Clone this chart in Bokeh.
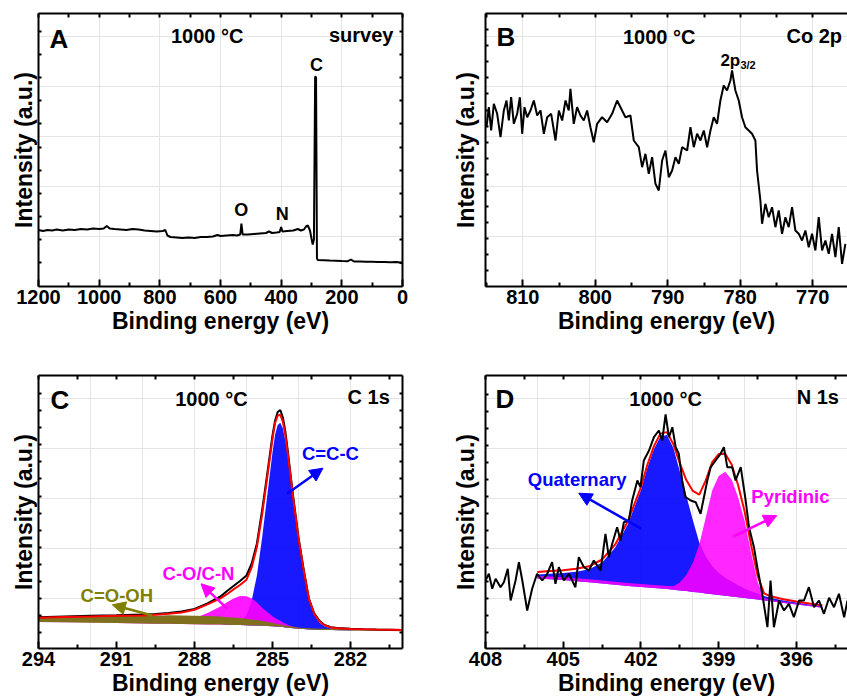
from bokeh.plotting import figure
from bokeh.models import (Range1d, FixedTicker, LinearAxis, Label, Arrow,
                          NormalHead, CustomJSTickFormatter)
from bokeh.layouts import column, row
from bokeh.embed import file_html
from bokeh.resources import INLINE

FONT = "Liberation Sans"

# ---------------- Panel A : survey ----------------
survey_be = [1200, 1185, 1170, 1155, 1140, 1120, 1100, 1080, 1060, 1040, 1020, 1000, 985, 975, 965,
             950, 930, 910, 890, 870, 850, 830, 810, 790, 782, 775, 765, 745, 725, 705, 685, 665,
             645, 625, 610, 600, 580, 560, 545, 535, 531, 527, 510, 490, 470, 450, 440, 430, 415,
             405, 400, 396, 380, 360, 345, 335, 325, 318, 312, 305, 300, 296, 292, 288, 285, 282,
             279, 260, 240, 220, 200, 180, 170, 160, 140, 120, 100, 80, 60, 40, 20, 10, 0]
survey_int = [56.5, 55.5, 56.5, 56, 57, 56, 57, 56.5, 57.5, 57, 58, 57.5, 58, 60.5, 58,
              57.5, 57, 56.5, 57.5, 57, 56, 55.5, 55, 55.5, 56.5, 51, 49.5, 49, 48.5, 49, 48.5, 49.5,
              49.5, 50, 51.5, 50.5, 51, 51.5, 51, 52, 63, 52, 52, 52.5, 53, 53.5, 55, 53.5, 54,
              54.5, 59.5, 55, 55.5, 56, 57.5, 56, 57, 60, 61, 56, 48, 42, 47, 210, 209, 28,
              26.5, 26.3, 26, 25.8, 25.5, 25.3, 27, 25, 25, 24.8, 24.8, 24.5, 24.5, 24.3, 24.5, 24, 23]

# ---------------- Panel B : Co 2p ----------------
co2p_be = [815.01, 814.69, 814.37, 814.00, 813.54, 813.08, 812.62, 812.25, 811.93, 811.61,
           811.24, 810.78, 810.41, 810.09, 809.77, 809.40, 808.94, 808.48, 808.02, 807.56,
           807.10, 806.64, 806.09, 805.49, 805.03, 804.57, 804.11, 803.66, 803.43, 802.97,
           802.51, 802.05, 801.59, 801.13, 800.67, 800.21, 799.75, 799.06, 798.37, 797.68,
           796.99, 796.53, 795.84, 795.15, 794.69, 794.00, 793.54, 793.08, 792.62, 792.16,
           791.70, 791.24, 790.78, 790.32, 789.86, 789.40, 788.94, 788.48, 788.02, 787.33,
           786.87, 786.41, 785.95, 785.49, 785.03, 784.57, 784.11, 783.66, 783.20, 782.74,
           782.28, 781.82, 781.36, 781.13, 780.67, 780.21, 779.75, 779.29, 778.83, 778.37,
           777.91, 777.68, 777.22, 776.99, 776.53, 776.07, 775.61, 775.15, 774.69, 774.23,
           773.77, 773.31, 772.85, 772.39, 771.93, 771.47, 771.01, 770.55, 770.09, 769.63,
           769.17, 768.71, 768.25, 767.79, 767.33, 766.87, 766.41, 765.95, 765.49]
co2p_int = [159.3, 179.3, 156, 182.7, 172.7, 149.3, 176, 186, 166, 189.3,
            162.7, 172.7, 189.3, 152.7, 179.3, 169.3, 176, 186, 171, 176,
            152.7, 169.3, 172.7, 146, 176, 166, 186, 176, 197.7, 162.7,
            179.3, 171, 166, 176, 159.3, 144.3, 162.7, 169.3, 164.3, 172.7,
            186, 179.3, 169.3, 171, 146, 139.3, 119.3, 132.7, 112.7, 129.3,
            102.7, 96, 126, 136, 109.3, 116, 129.3, 122.7, 139.3, 136,
            159.3, 139.3, 152.7, 146, 156, 139.3, 156, 169.3, 162.7, 186,
            201, 196, 206, 216, 196, 186, 169.3, 159.3, 156, 152.7,
            146, 116, 86, 62.7, 82.7, 69.3, 79.3, 59.3, 76, 52.7,
            69.3, 59.3, 79.3, 56, 52.7, 46, 56, 39.3, 52.7, 36,
            69.3, 36, 46, 32.7, 52.7, 29.3, 59.3, 22.7, 42.7]

# ---------------- Panel C : C 1s ----------------
c1s_be = [294, 293, 292, 291, 290, 289.5, 289, 288.5, 288, 287.5,
          287, 286.75, 286.5, 286.25, 286, 285.8, 285.6, 285.4, 285.2, 285.0,
          284.9, 284.8, 284.7, 284.6, 284.5, 284.4, 284.2, 284.0, 283.8, 283.6,
          283.4, 283.2, 283.0, 282.75, 282.5, 282, 281.5, 281, 280.5, 280]
c1s_raw = [31.3, 32, 32.7, 33.2, 34, 34.5, 35.5, 37, 39.5, 45,
           52, 57.5, 62.5, 67.5, 73, 85, 105, 138, 175, 213,
           228, 236.5, 238.5, 231, 216, 195, 151, 111, 79, 50,
           35.5, 28, 23.5, 21.3, 20.5, 19.8, 19.3, 19, 18.8, 18.6]
c1s_bg = [26.5, 26.2, 25.8, 25.4, 25.0, 24.8, 24.7, 24.5, 24.3, 24.1,
          23.9, 23.8, 23.6, 23.5, 23.3, 23.1, 23.0, 22.8, 22.6, 22.3,
          22.1, 21.9, 21.7, 21.4, 21.1, 20.8, 20.3, 19.8, 19.4, 19.1,
          18.8, 18.6, 18.5, 18.4, 18.3, 18.1, 17.9, 17.7, 17.5, 17.3]
c1s_ccc = [0, 0, 0, 0, 0, 0, 0, 0, 0, 0,
           0.2, 0.5, 1.5, 4, 10, 25, 50, 88, 131, 174,
           192, 201.5, 204, 198.5, 186, 167.5, 126, 88, 57, 29,
           15, 7.5, 3.5, 1.5, 0.8, 0.3, 0.1, 0, 0, 0]
c1s_con = [0.3, 0.3, 0.3, 0.4, 0.6, 0.9, 1.5, 3, 6, 11.5,
           18, 22.5, 26.5, 29, 29, 27, 23, 18, 14, 10,
           8.5, 7, 6, 4.7, 3.6, 2.7, 1.5, 0.7, 0.3, 0.1,
           0, 0, 0, 0, 0, 0, 0, 0, 0, 0]
c1s_cooh = [4, 5, 6, 7, 7.5, 8, 8.5, 8.5, 8.5, 8.5,
            8, 7.5, 7.5, 7, 6.5, 6, 5.5, 5, 4, 3.5,
            3, 2.5, 2.2, 2, 1.8, 1.6, 1.4, 1.3, 1.2, 1.2,
            1.2, 1.2, 1.2, 1.2, 1.2, 1.2, 1.2, 1.2, 1.2, 1.2]

# ---------------- Panel D : N 1s ----------------
n1s_be = [408.00, 407.87, 407.74, 407.61, 407.42, 407.29, 407.14, 407.03, 406.84, 406.71,
          406.58, 406.39, 406.20, 406.01, 405.81, 405.62, 405.43, 405.30, 405.17, 404.98,
          404.78, 404.53, 404.40, 404.20, 404.01, 403.82, 403.56, 403.37, 403.24, 403.11,
          402.92, 402.79, 402.66, 402.47, 402.34, 402.14, 402.02, 401.89, 401.69, 401.50,
          401.31, 401.18, 401.05, 400.92, 400.79, 400.66, 400.54, 400.41, 400.28, 400.08,
          399.89, 399.70, 399.57, 399.44, 399.31, 399.12, 398.93, 398.80, 398.67, 398.48,
          398.35, 398.15, 397.96, 397.83, 397.64, 397.51, 397.32, 397.12, 397.00, 396.87,
          396.67, 396.48, 396.29, 396.10, 395.90, 395.71, 395.52, 395.32, 395.13, 394.94,
          394.74, 394.55, 394.36, 394.16, 394.03]
n1s_raw = [68.0, 74.7, 59.7, 69.7, 61.3, 66.3, 79.7, 48, 68, 86.3,
           68, 38, 59.7, 74.7, 68, 74.7, 86.3, 64.7, 81.3, 68,
           74.7, 61.3, 91.3, 81.3, 78, 88, 78, 114.7, 91.3, 104.7,
           121.3, 108, 126.3, 128, 148, 168, 161.3, 188, 198, 211.3,
           218, 208, 234, 211.3, 221.3, 201.3, 194.7, 168, 151.3, 148,
           146.3, 134.7, 151.3, 168, 181.3, 188, 194.7, 201.3, 181.3, 181.3,
           168, 181.3, 148, 121.3, 101.3, 81.3, 54.7, 21.3, 68, 21.3,
           48, 38, 44.7, 31.3, 48, 48, 61.3, 41.3, 48, 34.7,
           50.7, 41.3, 54.7, 31.3, 48]
n1s_fit_be = [406.0, 405.5, 405.0, 404.5, 404.0, 403.5, 403.0, 402.5, 402.0,
              401.75, 401.5, 401.25, 401.0, 400.75, 400.5, 400.25, 400.0,
              399.75, 399.5, 399.25, 399.0, 398.75, 398.5, 398.25, 398.0,
              397.75, 397.5, 397.25, 397.0, 396.5, 396.0, 395.5, 395.0]
n1s_bg = [70.0, 69.2, 68.4, 67.3, 66.2, 65.0, 63.8, 62.6, 61.5,
          61.0, 60.4, 59.9, 59.4, 58.8, 58.1, 57.4, 56.6,
          55.9, 55.1, 54.3, 53.5, 52.8, 52.0, 51.3, 50.5,
          49.7, 48.9, 48.1, 47.2, 45.6, 44.0, 42.4, 40.8]
n1s_quat = [4, 5.5, 7, 9.5, 13, 21, 37, 62, 97,
            120, 139, 152, 154, 142, 119, 95, 72,
            50, 37, 28, 22, 18, 15, 12, 9.5,
            7.5, 6, 4.5, 3.5, 2.5, 2, 1.6, 1.3]
n1s_pyr = [2.5, 2.7, 2.8, 2.9, 3.0, 3.0, 3.0, 3.0, 3.0,
           3.0, 3.0, 3.0, 3.0, 3.5, 8, 16, 29,
           48, 76, 104, 119, 124, 117, 100, 77,
           46, 18, 2.5, 1.5, 1.2, 1.0, 0.9, 0.8]

BLUE = "#0000ff"
MAGENTA = "#ff00ff"
OLIVE_TXT = "#808000"
OLIVE_FILL = "#7f701e"
TEXT_DY = 7  # rendering offset for label baselines


def empty_fmt():
    return CustomJSTickFormatter(code="return ''")


def style_ax(ax, tin, minor_in=0):
    ax.axis_line_width = 2
    ax.axis_line_color = "black"
    ax.major_tick_in = tin
    ax.major_tick_out = 0
    ax.minor_tick_in = minor_in
    ax.minor_tick_out = 0
    ax.major_tick_line_width = 2
    ax.minor_tick_line_width = 2


def hide_labels(ax):
    ax.formatter = empty_fmt()
    ax.major_label_text_font_size = "1px"
    ax.major_label_standoff = 0


def make_fig(xr, width, height, left, right, top, bottom,
             xmaj, xmin, ytk, right_axis, ylab_standoff):
    p = figure(width=width, height=height, x_range=Range1d(*xr), y_range=Range1d(0, 273),
               output_backend="svg", toolbar_location=None,
               x_axis_location=None, y_axis_location=None,
               min_border=0, min_border_left=left, min_border_right=right,
               min_border_top=top, min_border_bottom=bottom)
    p.outline_line_color = None
    p.background_fill_color = "white"
    p.border_fill_color = "white"

    b = LinearAxis(ticker=FixedTicker(ticks=xmaj, minor_ticks=xmin),
                   axis_label="Binding energy (eV)")
    style_ax(b, 7, 4)
    b.major_label_text_font = FONT
    b.major_label_text_font_style = "bold"
    b.major_label_text_font_size = "20px"
    b.major_label_text_color = "black"
    b.major_label_standoff = 3
    b.axis_label_text_font = FONT
    b.axis_label_text_font_style = "bold"
    b.axis_label_text_font_size = "23px"
    b.axis_label_text_color = "black"
    b.axis_label_standoff = 1
    p.add_layout(b, "below")

    t = LinearAxis(ticker=FixedTicker(ticks=sorted(xmaj + xmin), minor_ticks=[]))
    style_ax(t, 4)
    hide_labels(t)
    p.add_layout(t, "above")

    l = LinearAxis(ticker=FixedTicker(ticks=ytk, minor_ticks=[]),
                   axis_label="Intensity (a.u.)")
    style_ax(l, 3)
    hide_labels(l)
    l.axis_label_text_font = FONT
    l.axis_label_text_font_style = "bold"
    l.axis_label_text_font_size = "23px"
    l.axis_label_text_color = "black"
    l.axis_label_standoff = ylab_standoff
    p.add_layout(l, "left")

    if right_axis:
        r = LinearAxis(ticker=FixedTicker(ticks=ytk, minor_ticks=[]))
        style_ax(r, 3)
        hide_labels(r)
        p.add_layout(r, "right")
    return p


def txt(p, x, y, s, size, color="black", align="left"):
    p.add_layout(Label(x=x, y=y + TEXT_DY, text=s, text_font=FONT, text_font_style="bold",
                       text_font_size=size, text_color=color, text_align=align,
                       text_baseline="alphabetic"))


def arrow(p, x0, y0, x1, y1, color):
    p.add_layout(Arrow(end=NormalHead(size=13, fill_color=color, line_color=color, line_width=1),
                       x_start=x0, y_start=y0, x_end=x1, y_end=y1,
                       line_color=color, line_width=2.5))


# ---------- A ----------
ytA = [23.7 + 23.16 * k for k in range(11)]
pA = make_fig((1200, 0), 420, 340, 38, 18, 13, 54,
              [0, 200, 400, 600, 800, 1000, 1200], [100, 300, 500, 700, 900, 1100],
              ytA, True, 2)
pA.line(survey_be, survey_int, line_color="black", line_width=2)
txt(pA, 1163.7, 241, "A", "26px")
txt(pA, 643.8, 243.5, "1000 °C", "20px", align="center")
txt(pA, 29.7, 245, "survey", "20px", align="right")
txt(pA, 283.4, 215, "C", "18px", align="center")
txt(pA, 531.5, 69.7, "O", "18px", align="center")
txt(pA, 396.5, 65.3, "N", "18px", align="center")

# ---------- B ----------
ytB = [16 + 16.05 * k for k in range(16)]
pB = make_fig((815.15, 765.2), 427, 340, 65, 0, 13, 54,
              [770, 780, 790, 800, 810], [765, 775, 785, 795, 805, 815],
              ytB, False, 7)
pB.line(co2p_be, co2p_int, line_color="black", line_width=2)
txt(pB, 813.63, 242.7, "B", "26px")
txt(pB, 791.18, 243, "1000 °C", "20px", align="center")
txt(pB, 765.95, 243.3, "Co 2p", "20px", align="right")
txt(pB, 782.74, 219.3, "2p", "17px")
txt(pB, 779.98, 214.3, "3/2", "11px")

# ---------- C ----------
ytC = [15.7 + 17.1 * k for k in range(15)]
pC = make_fig((294, 280), 420, 360, 38, 18, 35, 52,
              [282, 285, 288, 291, 294], [280.5, 283.5, 286.5, 289.5, 292.5],
              ytC, True, 2)
ccc_top = [b + v for b, v in zip(c1s_bg, c1s_ccc)]
con_top = [b + v for b, v in zip(c1s_bg, c1s_con)]
cooh_top = [b + v for b, v in zip(c1s_bg, c1s_cooh)]
c_fit = [b + u + v + w for b, u, v, w in zip(c1s_bg, c1s_ccc, c1s_con, c1s_cooh)]
pC.varea(x=c1s_be, y1=c1s_bg, y2=ccc_top, fill_color=BLUE, fill_alpha=0.9)
pC.varea(x=c1s_be, y1=c1s_bg, y2=con_top, fill_color=MAGENTA, fill_alpha=0.9)
pC.varea(x=c1s_be, y1=c1s_bg, y2=cooh_top, fill_color=OLIVE_FILL, fill_alpha=1.0)
pC.line(c1s_be, c1s_raw, line_color="black", line_width=2)
pC.line(c1s_be, c_fit, line_color="red", line_width=2)
txt(pC, 293.54, 241.3, "C", "26px")
txt(pC, 287.35, 243, "1000 °C", "20px", align="center")
txt(pC, 280.49, 244.7, "C 1s", "20px", align="right")
txt(pC, 283.87, 188, "C=C-C", "18.5px", color=BLUE)
txt(pC, 289.23, 68, "C-O/C-N", "18.5px", color=MAGENTA)
txt(pC, 292.38, 46.3, "C=O-OH", "18.5px", color=OLIVE_TXT)
arrow(pC, 284.44, 154.7, 283.06, 180.3, BLUE)
arrow(pC, 286.73, 39.7, 287.75, 64.7, MAGENTA)
arrow(pC, 289.62, 33, 291.16, 43.7, OLIVE_TXT)

# ---------- D ----------
ytD = [16.3 + 17.0 * k for k in range(15)]
pD = make_fig((408, 394.03), 427, 360, 65, 0, 35, 52,
              [396, 399, 402, 405, 408], [394.5, 397.5, 400.5, 403.5, 406.5],
              ytD, False, 7)
quat_top = [b + v for b, v in zip(n1s_bg, n1s_quat)]
pyr_top = [b + v for b, v in zip(n1s_bg, n1s_pyr)]
d_fit = [b + u + v for b, u, v in zip(n1s_bg, n1s_quat, n1s_pyr)]
pD.varea(x=n1s_fit_be, y1=n1s_bg, y2=quat_top, fill_color=BLUE, fill_alpha=0.9)
pD.varea(x=n1s_fit_be, y1=n1s_bg, y2=pyr_top, fill_color=MAGENTA, fill_alpha=0.85)
pD.line(n1s_fit_be, d_fit, line_color="red", line_width=2)
pD.line(n1s_be, n1s_raw, line_color="black", line_width=2)
txt(pD, 407.61, 243, "D", "26px")
txt(pD, 401.05, 243, "1000 °C", "20px", align="center")
txt(pD, 394.36, 245, "N 1s", "20px", align="right")
txt(pD, 406.37, 162.3, "Quaternary", "18.5px", color=BLUE)
txt(pD, 397.74, 145.3, "Pyridinic", "18.5px", color=MAGENTA)
arrow(pD, 401.98, 119.7, 404.40, 155.3, BLUE)
arrow(pD, 398.44, 112, 396.76, 133, MAGENTA)

layout = column(row(pA, pB), row(pC, pD))
open("out.html", "w").write(file_html(layout, INLINE))
